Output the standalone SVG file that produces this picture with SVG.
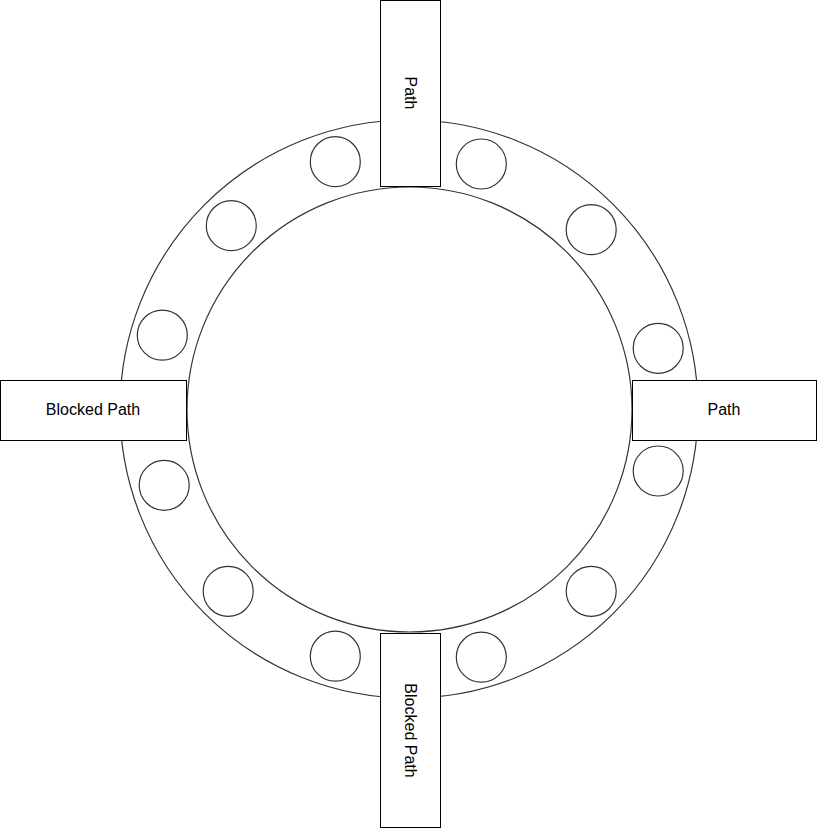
<svg xmlns="http://www.w3.org/2000/svg" width="817" height="828" viewBox="0 0 817 828">
<style>
.ring{fill:#fff;stroke:#333;stroke-width:1.2}
.ball{fill:#fff;stroke:#333;stroke-width:1.2}
.box{fill:#fff;stroke:#000;stroke-width:1}
.lbl{font-family:"Liberation Sans",Arial,sans-serif;font-size:16px;fill:#000;text-anchor:middle;dominant-baseline:central}
</style>
<rect width="817" height="828" fill="#fff"/>
<g id="outer-ring"><circle class="ring" cx="409" cy="409" r="289"/></g>
<g id="inner-ring"><circle class="ring" cx="409.5" cy="409.5" r="222.5"/></g>
<g id="balls">
<circle class="ball" cx="335.3" cy="161.7" r="25"/>
<circle class="ball" cx="481.3" cy="164" r="25"/>
<circle class="ball" cx="231.3" cy="225.7" r="25"/>
<circle class="ball" cx="591.2" cy="229.7" r="25"/>
<circle class="ball" cx="162.3" cy="335.2" r="25"/>
<circle class="ball" cx="658.2" cy="348.3" r="25"/>
<circle class="ball" cx="164.2" cy="485.3" r="25"/>
<circle class="ball" cx="658.2" cy="471" r="25"/>
<circle class="ball" cx="228.2" cy="591.3" r="25"/>
<circle class="ball" cx="591.2" cy="591.3" r="25"/>
<circle class="ball" cx="335.3" cy="656.2" r="25"/>
<circle class="ball" cx="481.3" cy="657.2" r="25"/>
</g>
<g id="top-path">
<rect class="box" x="380.5" y="0.5" width="60" height="186"/>
<text class="lbl" transform="translate(410,93) rotate(90)">Path</text>
</g>
<g id="right-path">
<rect class="box" x="632.5" y="380.5" width="184" height="60"/>
<text class="lbl" x="724" y="409.5">Path</text>
</g>
<g id="bottom-blocked">
<rect class="box" x="380.5" y="633.5" width="60" height="194"/>
<text class="lbl" transform="translate(410,730.5) rotate(90)">Blocked Path</text>
</g>
<g id="left-blocked">
<rect class="box" x="0.5" y="380.5" width="186" height="60"/>
<text class="lbl" x="93" y="409.5">Blocked Path</text>
</g>
<g id="connectors"/>
</svg>
